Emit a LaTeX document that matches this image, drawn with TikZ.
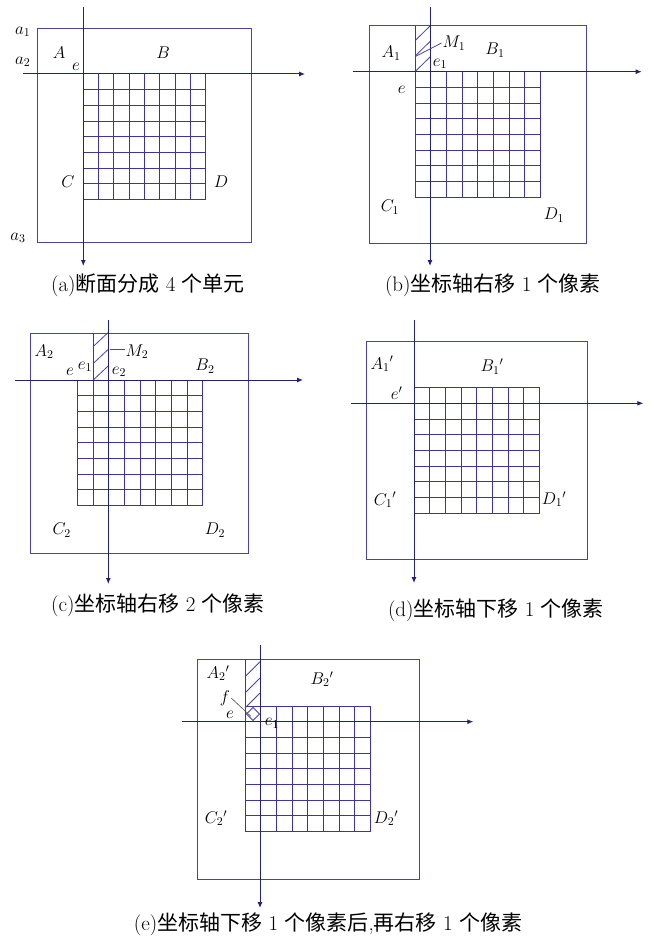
\RequirePackage{fix-cm}
\documentclass[tikz,border=0pt]{standalone}
\usepackage{fontspec}
\newfontfamily\cjk{Noto Sans CJK SC}
\usetikzlibrary{arrows.meta}
\definecolor{boxblue}{RGB}{72,66,172}
\definecolor{gridblue}{RGB}{58,52,165}
\definecolor{axisblue}{RGB}{32,32,125}
\tikzset{
  outer/.style={draw=boxblue, line width=1pt},
  gridline/.style={draw=gridblue, line width=1pt},
  axis/.style={draw=axisblue, line width=1pt, -{Latex[length=6pt,width=5pt]}},
  hatch/.style={draw=boxblue, line width=0.8pt},
  leader/.style={draw=boxblue, line width=0.8pt},
  lbl/.style={inner sep=1pt, font=\fontsize{17}{19}\selectfont},
  captext/.style={inner sep=1pt, font=\fontsize{21}{24}\selectfont},
  cells/.pic={
    \foreach \k in {0,...,8}{
      \draw[gridline] (\k*15.7,0) -- (\k*15.7,125.6);
      \draw[gridline] (0,\k*15.7) -- (125.6,\k*15.7);
    }
  }
}

\begin{document}
\begin{tikzpicture}[x=1pt,y=-1pt]
\useasboundingbox (0,0) rectangle (655,939);

% (a)
\draw[outer] (37.7,28.3) rectangle (251.7,242.3);
\pic[xscale=0.975] at (83.3,74) {cells};
\coordinate (an) at (83.3,7);
\coordinate (as) at (83.3,266);
\coordinate (aw) at (22.7,74);
\coordinate (ae) at (305,74);
\draw[axis] (an) -- (as);
\draw[axis] (aw) -- (ae);
\node[lbl] (a1) at (22.7,32) {$a_1$};
\node[lbl] (a2) at (22.7,62) {$a_2$};
\node[lbl] (a3) at (18,238) {$a_3$};
\node[lbl] (aA) at (59,53) {$A$};
\node[lbl] (aB) at (163,53) {$B$};
\node[lbl, fill=white] (ae0) at (76,67) {$e$};
\node[lbl] (aC) at (68,182) {$C$};
\node[lbl] (aD) at (221,182) {$D$};
\node[captext] (capa) at (148,285) {(a){\cjk 断面分成} 4 {\cjk 个单元}};

% (b)
\draw[outer] (369,25.7) rectangle (586,243);
\pic at (415,71.7) {cells};
\draw[gridline] (415,25.7) -- (415,71.7);
\foreach \h in {0,15.5,31}
  \draw[hatch] (415,40.7+\h) -- (430,26+\h);
\coordinate (bn) at (430,7);
\coordinate (bs) at (430,266);
\coordinate (bw) at (352.7,71.7);
\coordinate (be) at (641.7,71.7);
\draw[axis] (bn) -- (bs);
\draw[axis] (bw) -- (be);
\node[lbl] (bA) at (391,53) {$A_1$};
\node[lbl] (bM) at (454,43) {$M_1$};
\node[lbl] (bB) at (495,50) {$B_1$};
\node[lbl] (be1) at (440,64) {$e_1$};
\node[lbl] (be0) at (401.7,90) {$e$};
\node[lbl] (bC) at (390,207) {$C_1$};
\node[lbl] (bD) at (554,215) {$D_1$};
\coordinate (bfoot) at (415,56.7);
\draw[leader] (bfoot) -- (bM.west);
\node[captext] (capb) at (493,285) {(b){\cjk 坐标轴右移} 1 {\cjk 个像素}};

% (c)
\draw[outer] (30.7,333.3) rectangle (248.3,553.3);
\pic at (77.3,380) {cells};
\draw[gridline] (93,333.3) -- (93,380);
\foreach \h in {0,17,33.5}
  \draw[hatch] (93,346.7+\h) -- (108.3,332.3+\h);
\coordinate (cn) at (108.3,320);
\coordinate (cs) at (108.3,584);
\coordinate (cw) at (15,380);
\coordinate (ce) at (303,380);
\draw[axis] (cn) -- (cs);
\draw[axis] (cw) -- (ce);
\node[lbl] (cA) at (44,351.7) {$A_2$};
\node[lbl] (cM) at (137,351.7) {$M_2$};
\node[lbl] (cB) at (205,366) {$B_2$};
\node[lbl] (ce0) at (70,371.7) {$e$};
\node[lbl] (ce1) at (85,366.7) {$e_1$};
\node[lbl] (ce2) at (119,371.7) {$e_2$};
\node[lbl] (cC) at (61.7,530) {$C_2$};
\node[lbl] (cD) at (215,530) {$D_2$};
\coordinate (cfoot) at (109.5,349);
\draw[leader] (cfoot) -- (cM.west |- cfoot);
\node[captext] (capc) at (158,605) {(c){\cjk 坐标轴右移} 2 {\cjk 个像素}};

% (d)
\draw[outer] (366,341) rectangle (587.3,559.3);
\pic at (414,387.7) {cells};
\coordinate (dn) at (414,320);
\coordinate (ds) at (414,583);
\coordinate (dw) at (350.7,403.3);
\coordinate (de) at (643.3,403.3);
\draw[axis] (dn) -- (ds);
\draw[axis] (dw) -- (de);
\node[lbl] (dA) at (382,364) {$A_1{}'$};
\node[lbl] (dB) at (492,366.7) {$B_1{}'$};
\node[lbl] (de0) at (396.7,393) {$e'$};
\node[lbl] (dC) at (385,500) {$C_1{}'$};
\node[lbl] (dD) at (554,499.3) {$D_1{}'$};
\node[captext] (capd) at (496,610) {(d){\cjk 坐标轴下移} 1 {\cjk 个像素}};

% (e)
\draw[outer] (197.3,659.3) rectangle (419,879.3);
\pic at (245,706) {cells};
\draw[gridline] (245,659.3) -- (245,706);
\foreach \h in {0,16.3,31.3}
  \draw[hatch] (245,676.7+\h) -- (260,661.7+\h);
\draw[hatch] (246.5,714) -- (253,707.5) -- (259.5,714) -- (253,720.5) -- cycle;
\coordinate (en) at (260,645);
\coordinate (es) at (260,908);
\coordinate (ew) at (181.7,721.7);
\coordinate (ee) at (473.3,721.7);
\draw[axis] (en) -- (es);
\draw[axis] (ew) -- (ee);
\node[lbl] (eA) at (218,673.3) {$A_2{}'$};
\node[lbl] (eB) at (322,679.3) {$B_2{}'$};
\node[lbl] (ef) at (225,698) {$f$};
\node[lbl, fill=white, inner sep=0.5pt] (ee0) at (230,715) {$e$};
\node[lbl] (ee1) at (272,723.3) {$e_1$};
\node[lbl] (eC) at (216,818.3) {$C_2{}'$};
\node[lbl] (eD) at (386,818.3) {$D_2{}'$};
\coordinate (edmd) at (251,716.5);
\draw[draw=black!70, line width=0.6pt] (ef.east) -- (edmd);
\node[captext] (cape) at (328,924) {(e){\cjk 坐标轴下移} 1 {\cjk 个像素后},{\cjk 再右移} 1 {\cjk 个像素}};
\end{tikzpicture}
\end{document}
